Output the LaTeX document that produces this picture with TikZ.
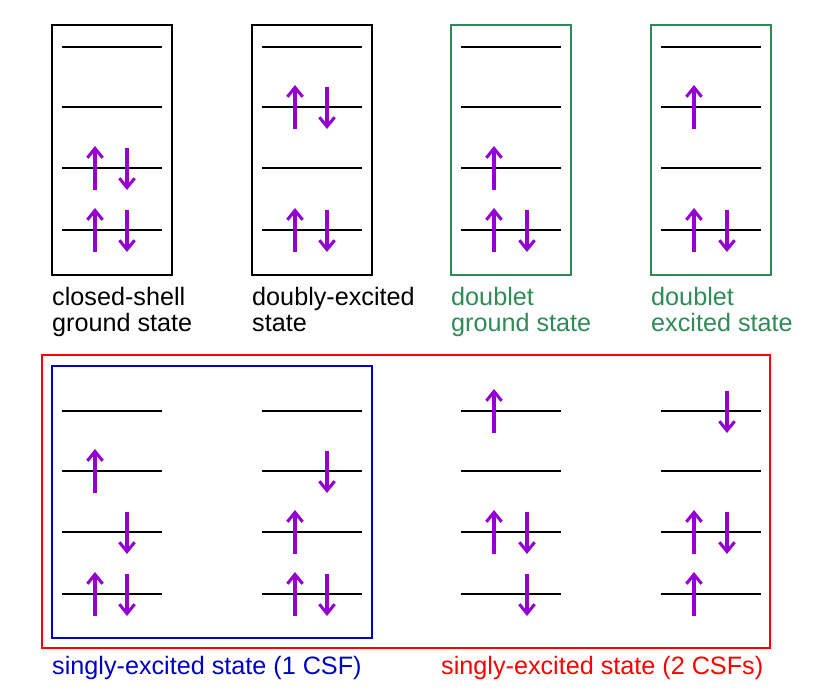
\documentclass[tikz,border=0pt]{standalone}
\usepackage{fontspec}
\setmainfont{Liberation Sans}
\usetikzlibrary{arrows.meta}
\definecolor{spin}{RGB}{148,0,211}
\definecolor{dgreen}{RGB}{46,139,87}
\definecolor{dblue}{RGB}{0,0,200}
\newcommand{\up}[2]{\draw[spinarrow] (#1,#2+22) -- (#1,#2-22);}
\newcommand{\dn}[2]{\draw[spinarrow] (#1,#2-20) -- (#1,#2+22);}
\newcommand{\levels}[1]{\foreach \ly in {#1} \draw[level] (\lx,\ly) -- ++(100,0);}

\begin{document}
\begin{tikzpicture}[x=0.03cm,y=-0.03cm,
  level/.style={line width=1.4pt},
  spinarrow/.style={spin, line width=2.6pt, -{Straight Barb[length=8pt,width=13pt]}},
  box/.style={line width=2pt},
  lab/.style={anchor=north west, align=left, inner sep=0pt, font=\fontsize{21.5}{22.3}\selectfont}
]
\useasboundingbox (0,0) rectangle (830,692);

% top row
\draw[box] (52,25) rectangle (172,275);
\draw[box] (252,25) rectangle (372,275);
\draw[box, dgreen] (451,25) rectangle (571,275);
\draw[box, dgreen] (651,25) rectangle (771,275);
\foreach \lx in {62,262,461,661} {\levels{47,107,168,230}}

\up{95}{168} \dn{127}{168}
\up{95}{230} \dn{127}{230}
\up{295}{107} \dn{327}{107}
\up{295}{230} \dn{327}{230}
\up{494}{168}
\up{494}{230} \dn{527}{230}
\up{694}{107}
\up{694}{230} \dn{727}{230}

\node[lab] (l1) at (52,287) {closed-shell\\ground state};
\node[lab] (l2) at (252,287) {doubly-excited\\state};
\node[lab, dgreen] (l3) at (451,287) {doublet\\ground state};
\node[lab, dgreen] (l4) at (651,287) {doublet\\excited state};

% bottom row
\draw[box, red] (42,355) rectangle (770,648);
\draw[box, dblue] (52,366) rectangle (372,638);
\foreach \lx in {62,262,461,661} {\levels{411,471,532,594}}

\up{95}{471} \dn{127}{532}
\up{95}{594} \dn{127}{594}
\dn{327}{471} \up{295}{532}
\up{295}{594} \dn{327}{594}
\up{494}{411}
\up{494}{532} \dn{527}{532}
\dn{527}{594}
\dn{727}{411}
\up{694}{532} \dn{727}{532}
\up{694}{594}

\node[lab, dblue] (l5) at (52,656) {singly-excited state (1 CSF)};
\node[lab, red] (l6) at (441,656) {singly-excited state (2 CSFs)};
\end{tikzpicture}
\end{document}
